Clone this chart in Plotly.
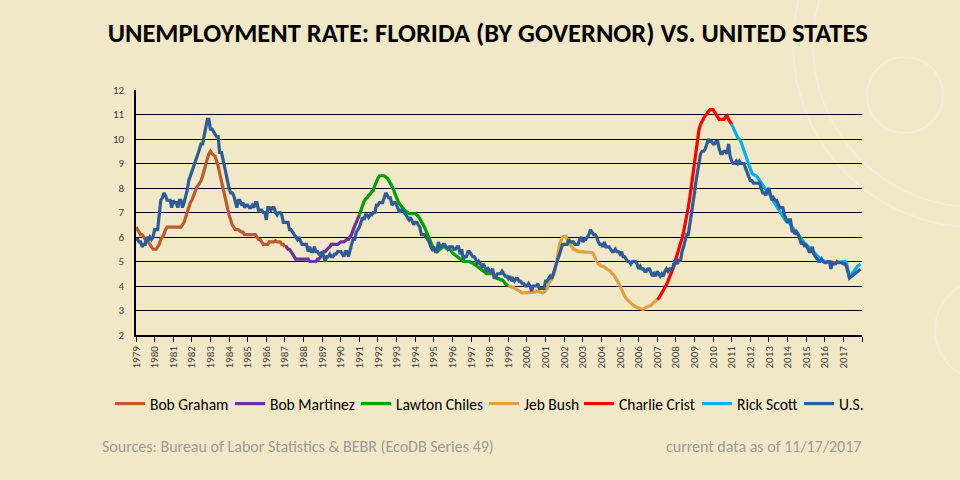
import pandas as pd
import plotly.graph_objects as go

# monthly unemployment rates, Jan 1979 - Dec 2017
years = list(range(1979, 2018))

us_rate = [
    5.9, 5.9, 5.8, 5.8, 5.6, 5.7, 5.7, 6.0, 5.9, 6.0, 5.9, 6.0,
    6.3, 6.3, 6.3, 6.9, 7.5, 7.6, 7.8, 7.7, 7.5, 7.5, 7.5, 7.2,
    7.5, 7.4, 7.4, 7.2, 7.5, 7.5, 7.2, 7.4, 7.6, 7.9, 8.3, 8.5,
    8.6, 8.9, 9.0, 9.3, 9.4, 9.6, 9.8, 9.8, 10.1, 10.4, 10.8, 10.8,
    10.4, 10.4, 10.3, 10.2, 10.1, 10.1, 9.4, 9.5, 9.2, 8.8, 8.5, 8.3,
    8.0, 7.8, 7.8, 7.7, 7.4, 7.2, 7.5, 7.5, 7.3, 7.4, 7.2, 7.3,
    7.3, 7.2, 7.2, 7.3, 7.2, 7.4, 7.4, 7.1, 7.1, 7.1, 7.0, 7.0,
    6.7, 7.2, 7.2, 7.1, 7.2, 7.2, 7.0, 6.9, 7.0, 7.0, 6.9, 6.6,
    6.6, 6.6, 6.6, 6.3, 6.3, 6.2, 6.1, 6.0, 5.9, 6.0, 5.8, 5.7,
    5.7, 5.7, 5.7, 5.4, 5.6, 5.4, 5.4, 5.6, 5.4, 5.4, 5.3, 5.3,
    5.4, 5.2, 5.0, 5.2, 5.2, 5.3, 5.2, 5.2, 5.3, 5.3, 5.4, 5.4,
    5.4, 5.3, 5.2, 5.4, 5.4, 5.2, 5.5, 5.7, 5.9, 5.9, 6.2, 6.3,
    6.4, 6.6, 6.8, 6.7, 6.9, 6.9, 6.8, 6.9, 6.9, 7.0, 7.0, 7.3,
    7.3, 7.4, 7.4, 7.4, 7.6, 7.8, 7.7, 7.6, 7.6, 7.3, 7.4, 7.4,
    7.3, 7.1, 7.0, 7.1, 7.1, 7.0, 6.9, 6.8, 6.7, 6.8, 6.6, 6.5,
    6.6, 6.6, 6.5, 6.4, 6.1, 6.1, 6.1, 6.0, 5.9, 5.8, 5.6, 5.5,
    5.6, 5.4, 5.4, 5.8, 5.6, 5.6, 5.7, 5.7, 5.6, 5.5, 5.6, 5.6,
    5.6, 5.5, 5.5, 5.6, 5.6, 5.3, 5.5, 5.1, 5.2, 5.2, 5.4, 5.4,
    5.3, 5.2, 5.2, 5.1, 4.9, 5.0, 4.9, 4.8, 4.9, 4.7, 4.6, 4.7,
    4.6, 4.6, 4.7, 4.3, 4.4, 4.5, 4.5, 4.5, 4.6, 4.5, 4.4, 4.4,
    4.3, 4.4, 4.2, 4.3, 4.2, 4.3, 4.3, 4.2, 4.2, 4.1, 4.1, 4.0,
    4.0, 4.1, 4.0, 3.8, 4.0, 4.0, 4.0, 4.1, 3.9, 3.9, 3.9, 3.9,
    4.2, 4.2, 4.3, 4.4, 4.3, 4.5, 4.6, 4.9, 5.0, 5.3, 5.5, 5.7,
    5.7, 5.7, 5.7, 5.9, 5.8, 5.8, 5.8, 5.7, 5.7, 5.7, 5.9, 6.0,
    5.8, 5.9, 5.9, 6.0, 6.1, 6.3, 6.2, 6.1, 6.1, 6.0, 5.8, 5.7,
    5.7, 5.6, 5.8, 5.6, 5.6, 5.6, 5.5, 5.4, 5.4, 5.5, 5.4, 5.4,
    5.3, 5.4, 5.2, 5.2, 5.1, 5.0, 5.0, 4.9, 5.0, 5.0, 5.0, 4.9,
    4.7, 4.8, 4.7, 4.7, 4.6, 4.6, 4.7, 4.7, 4.5, 4.4, 4.5, 4.4,
    4.6, 4.5, 4.4, 4.5, 4.4, 4.6, 4.7, 4.6, 4.7, 4.7, 4.7, 5.0,
    5.0, 4.9, 5.1, 5.0, 5.4, 5.6, 5.8, 6.1, 6.1, 6.5, 6.8, 7.3,
    7.8, 8.3, 8.7, 9.0, 9.4, 9.5, 9.5, 9.6, 9.8, 10.0, 9.9, 9.9,
    9.8, 9.8, 9.9, 9.9, 9.6, 9.4, 9.4, 9.5, 9.5, 9.4, 9.8, 9.3,
    9.1, 9.0, 9.0, 9.1, 9.0, 9.1, 9.0, 9.0, 9.0, 8.8, 8.6, 8.5,
    8.3, 8.3, 8.2, 8.2, 8.2, 8.2, 8.2, 8.0, 7.8, 7.8, 7.7, 7.9,
    8.0, 7.7, 7.5, 7.6, 7.5, 7.5, 7.3, 7.2, 7.2, 7.2, 6.9, 6.7,
    6.6, 6.7, 6.7, 6.2, 6.3, 6.1, 6.2, 6.1, 5.9, 5.7, 5.8, 5.6,
    5.7, 5.5, 5.4, 5.4, 5.6, 5.3, 5.2, 5.1, 5.0, 5.0, 5.1, 5.0,
    4.95, 4.95, 5.0, 5.0, 4.7, 4.95, 4.9, 4.9, 5.0, 4.95, 4.95, 4.95,
    4.9, 4.9, 4.8, 4.55, 4.32, 4.38, 4.43, 4.48, 4.53, 4.58, 4.63, 4.68,
]

fl_rate = [
    6.4, 6.3, 6.2, 6.1, 6.1, 6.0, 5.9, 5.9, 5.8, 5.7, 5.6, 5.5,
    5.5, 5.5, 5.6, 5.7, 5.9, 6.0, 6.1, 6.3, 6.4, 6.4, 6.4, 6.4,
    6.4, 6.4, 6.4, 6.4, 6.4, 6.4, 6.5, 6.6, 6.8, 7.0, 7.2, 7.4,
    7.5, 7.7, 7.9, 8.0, 8.1, 8.2, 8.3, 8.5, 8.7, 9.0, 9.2, 9.4,
    9.5, 9.4, 9.35, 9.3, 9.1, 8.9, 8.6, 8.3, 8.0, 7.7, 7.4, 7.1,
    6.9, 6.7, 6.5, 6.4, 6.3, 6.3, 6.3, 6.25, 6.2, 6.2, 6.1, 6.1,
    6.1, 6.1, 6.1, 6.1, 6.1, 6.1, 6.0, 5.9, 5.9, 5.8, 5.7, 5.7,
    5.7, 5.7, 5.8, 5.8, 5.8, 5.8, 5.85, 5.8, 5.8, 5.8, 5.7, 5.7,
    5.6, 5.6, 5.5, 5.5, 5.4, 5.3, 5.2, 5.1, 5.1, 5.1, 5.1, 5.1,
    5.1, 5.1, 5.1, 5.1, 5.0, 5.0, 5.0, 5.0, 5.0, 5.1, 5.1, 5.2,
    5.3, 5.4, 5.4, 5.5, 5.55, 5.6, 5.7, 5.7, 5.7, 5.7, 5.7, 5.75,
    5.8, 5.8, 5.8, 5.85, 5.9, 5.9, 6.0, 6.1, 6.3, 6.45, 6.6, 6.75,
    6.9, 7.1, 7.3, 7.45, 7.55, 7.6, 7.7, 7.75, 7.85, 7.9, 8.1, 8.3,
    8.4, 8.5, 8.5, 8.5, 8.5, 8.45, 8.4, 8.3, 8.2, 8.1, 7.95, 7.75,
    7.55, 7.45, 7.35, 7.25, 7.15, 7.1, 7.05, 7.0, 6.95, 6.95, 6.95, 6.95,
    6.95, 6.9, 6.85, 6.75, 6.65, 6.5, 6.4, 6.25, 6.1, 5.95, 5.8, 5.65,
    5.5, 5.45, 5.4, 5.45, 5.5, 5.55, 5.6, 5.6, 5.55, 5.55, 5.5, 5.45,
    5.35, 5.3, 5.25, 5.2, 5.15, 5.1, 5.05, 5.0, 5.0, 5.0, 5.0, 5.0,
    4.95, 4.95, 4.9, 4.85, 4.8, 4.75, 4.7, 4.65, 4.6, 4.55, 4.5, 4.5,
    4.5, 4.5, 4.5, 4.45, 4.35, 4.3, 4.3, 4.25, 4.25, 4.2, 4.1, 4.05,
    4.0, 4.0, 3.97, 3.95, 3.9, 3.85, 3.83, 3.8, 3.75, 3.72, 3.72, 3.72,
    3.72, 3.72, 3.72, 3.72, 3.72, 3.75, 3.8, 3.78, 3.76, 3.74, 3.72, 3.75,
    3.82, 3.9, 4.1, 4.2, 4.3, 4.4, 4.6, 4.9, 5.3, 5.7, 5.9, 6.0,
    6.03, 6.03, 5.9, 5.82, 5.7, 5.6, 5.5, 5.47, 5.43, 5.41, 5.4, 5.4,
    5.4, 5.4, 5.4, 5.4, 5.4, 5.38, 5.37, 5.3, 5.1, 5.0, 4.9, 4.85,
    4.82, 4.8, 4.78, 4.72, 4.68, 4.65, 4.6, 4.5, 4.45, 4.35, 4.25, 4.15,
    4.0, 3.85, 3.7, 3.6, 3.5, 3.42, 3.35, 3.3, 3.25, 3.2, 3.17, 3.12,
    3.1, 3.08, 3.05, 3.04, 3.1, 3.14, 3.16, 3.18, 3.2, 3.28, 3.33, 3.4,
    3.45, 3.5, 3.6, 3.7, 3.8, 3.95, 4.05, 4.2, 4.35, 4.5, 4.65, 4.85,
    5.1, 5.3, 5.5, 5.7, 5.95, 6.2, 6.5, 6.9, 7.2, 7.6, 8.1, 8.5,
    9.1, 9.6, 10.1, 10.4, 10.6, 10.75, 10.85, 10.95, 11.05, 11.1, 11.2, 11.2,
    11.2, 11.1, 11.0, 10.9, 10.8, 10.8, 10.8, 10.8, 10.9, 10.95, 10.8, 10.7,
    10.6, 10.45, 10.3, 10.15, 10.05, 10.0, 9.9, 9.7, 9.5, 9.3, 9.1, 8.9,
    8.7, 8.6, 8.55, 8.52, 8.49, 8.4, 8.3, 8.2, 8.1, 8.0, 7.9, 7.85,
    7.8, 7.7, 7.6, 7.45, 7.35, 7.2, 7.1, 7.0, 6.9, 6.8, 6.7, 6.65,
    6.6, 6.58, 6.5, 6.4, 6.3, 6.2, 6.15, 6.1, 6.0, 5.9, 5.82, 5.75,
    5.7, 5.63, 5.56, 5.5, 5.42, 5.36, 5.3, 5.23, 5.18, 5.12, 5.07, 5.03,
    5.0, 5.0, 4.98, 4.98, 4.97, 4.96, 4.95, 4.95, 4.96, 4.97, 4.98, 5.0,
    5.02, 5.0, 4.95, 4.68, 4.34, 4.45, 4.55, 4.65, 4.72, 4.8, 4.85, 4.9,
]

governors = ["Bob Graham", "Bob Martinez", "Lawton Chiles", "Jeb Bush", "Charlie Crist", "Rick Scott"]
term_start = ["1979-01", "1987-01", "1991-01", "1999-01", "2007-01", "2011-01"]
term_end = ["1987-01", "1991-01", "1999-01", "2007-01", "2011-01", "2017-12"]

gov_colors = {
    "Bob Graham": "#BE5B2E",
    "Bob Martinez": "#7030A0",
    "Lawton Chiles": "#00A000",
    "Jeb Bush": "#E0A040",
    "Charlie Crist": "#FF0000",
    "Rick Scott": "#00B0F0",
}
us_color = "#2E5C99"

dates = pd.date_range("1979-01-01", periods=len(us_rate), freq="MS")
fl = pd.Series(fl_rate, index=dates)
us = pd.Series(us_rate, index=dates)

font_main = "Carlito, 'Liberation Sans Narrow', 'Open Sans', sans-serif"
bg = "#F1E8C7"

# plot area in pixels: x 136..862, y 90..335
PL, PW, PT, PH = 136, 726, 90, 245

def px_x(px):
    return (px - PL) / PW

def px_y(py):
    return (PT + PH - py) / PH

fig = go.Figure()

# one small legend per entry so the entries sit where the slide has them
legend_left = [118, 238, 364, 492, 587, 705, 807]
legend_ids = ["legend"] + [f"legend{i}" for i in range(2, 8)]

for i, (name, start, end) in enumerate(zip(governors, term_start, term_end)):
    seg = fl[start:end]
    fig.add_trace(go.Scatter(
        x=seg.index, y=seg.values, mode="lines", name=name,
        line=dict(color=gov_colors[name], width=3.2),
        legend=legend_ids[i],
    ))

fig.add_trace(go.Scatter(
    x=us.index, y=us.values, mode="lines", name="U.S.",
    line=dict(color=us_color, width=3.2),
    legend=legend_ids[6],
))

legends = {}
for lid, left in zip(legend_ids, legend_left):
    legends[lid] = dict(
        x=px_x(left - 8), xanchor="left", y=px_y(404), yanchor="middle",
        font=dict(size=15.5, color="black", family=font_main),
        itemwidth=30, bgcolor="rgba(0,0,0,0)", borderwidth=0,
    )

# year ticks, plus an unlabelled tick closing the axis
tick_years = years + [years[-1] + 1]

fig.update_xaxes(
    type="date",
    range=["1979-01-01", "2018-01-01"],
    tickvals=[f"{y}-01-01" for y in tick_years],
    ticktext=[str(y) for y in years] + [""],
    tickangle=-90,
    ticks="outside", ticklen=5, tickcolor="black",
    showline=True, linecolor="black", linewidth=1.5,
    showgrid=False, zeroline=False,
    tickfont=dict(size=11, color="#404040", family=font_main),
)
fig.update_yaxes(
    range=[2, 12], dtick=1,
    showline=True, linecolor="black", linewidth=1.5,
    showgrid=True, gridcolor="black", gridwidth=1.3,
    zeroline=False, ticks="", ticklabelstandoff=8,
    tickfont=dict(size=11, color="#404040", family=font_main),
)

# faint decorative rings on the slide background
for cx, cy, r in [(905, 95, 38), (975, 45, 182), (975, 45, 162), (985, 330, 50)]:
    fig.add_shape(type="circle", xref="paper", yref="paper", layer="below",
                  x0=px_x(cx - r), x1=px_x(cx + r),
                  y0=px_y(cy + r), y1=px_y(cy - r),
                  line=dict(color="rgba(255,255,255,0.22)", width=2))

fig.add_annotation(text="Sources: Bureau of Labor Statistics & BEBR (EcoDB Series 49)",
                   xref="paper", yref="paper", x=px_x(100), y=px_y(446),
                   xanchor="left", yanchor="middle", showarrow=False,
                   font=dict(size=16, color="#9A9A9A", family=font_main))
fig.add_annotation(text="current data as of 11/17/2017",
                   xref="paper", yref="paper", x=px_x(863), y=px_y(446),
                   xanchor="right", yanchor="middle", showarrow=False,
                   font=dict(size=16, color="#9A9A9A", family=font_main))

fig.update_layout(
    width=960, height=480,
    margin=dict(l=PL, r=960 - PL - PW, t=PT, b=480 - PT - PH),
    paper_bgcolor=bg, plot_bgcolor="rgba(0,0,0,0)",
    title=dict(text="<b>UNEMPLOYMENT RATE: FLORIDA (BY GOVERNOR) VS. UNITED STATES</b>",
               x=0.508, xanchor="center", y=1 - 33 / 480, yanchor="middle",
               font=dict(size=26.5, color="black", family=font_main)),
    showlegend=True,
    **legends,
)

fig.write_html("out.html",
               config={"displayModeBar": False},
               post_script="document.body.style.margin='0';"
                           "document.body.style.background='" + bg + "';")
